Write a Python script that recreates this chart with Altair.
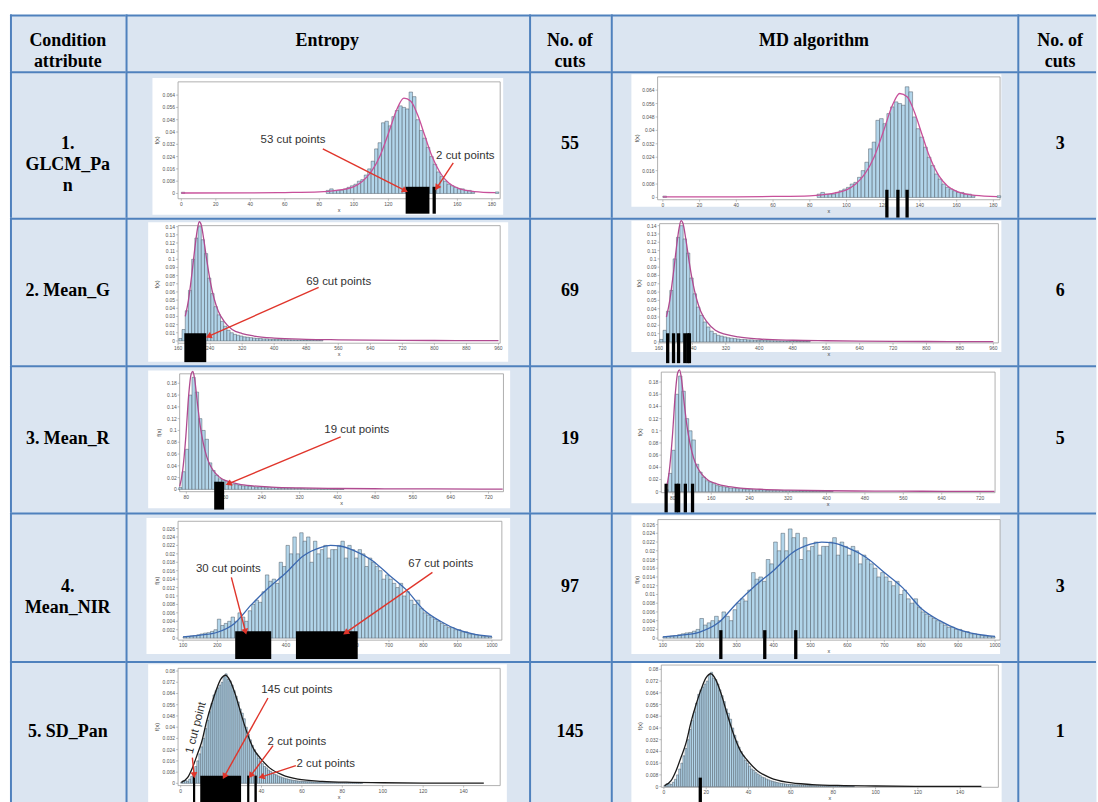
import math
import altair as alt
import pandas as pd

# ---------------- table text ----------------
HEADERS = ["Condition\nattribute", "Entropy", "No. of\ncuts", "MD algorithm", "No. of\ncuts"]
ATTRIBUTES = ["1.\nGLCM_Pa\nn", "2. Mean_G", "3. Mean_R", "4.\nMean_NIR", "5. SD_Pan"]
ENTROPY_CUTS = [55, 69, 19, 97, 145]
MD_CUTS = [3, 6, 5, 3, 1]

# ---------------- histograms (bin start, bin width, density f(x)) ----------------
GLCM_START, GLCM_WIDTH = 84, 2
GLCM_F = [0.002, 0.003, 0.002, 0.002, 0.002, 0.003, 0.004, 0.005, 0.006, 0.008,
          0.009, 0.012, 0.016, 0.021, 0.029, 0.033, 0.046, 0.047, 0.044, 0.05,
          0.054, 0.057, 0.056, 0.055, 0.066, 0.063, 0.048, 0.041, 0.036, 0.03,
          0.024, 0.019, 0.014, 0.011, 0.008, 0.006, 0.005, 0.004, 0.003, 0.003,
          0.002, 0.002, 0.001]
GLCM_EXTRA_X0 = [0, 182]
GLCM_EXTRA_F = [0.0008, 0.001]
GLCM_CURVE_X = [0, 40, 60, 80, 90, 100, 105, 110, 115, 120, 125, 129, 133, 137, 141, 145, 150, 155, 160, 170, 182]
GLCM_CURVE_F = [0.0003, 0.0004, 0.0006, 0.001, 0.002, 0.0045, 0.008, 0.014, 0.024, 0.039, 0.055, 0.062,
                0.06, 0.051, 0.038, 0.025, 0.0135, 0.0068, 0.0036, 0.0012, 0.0005]

MEANG_START, MEANG_WIDTH = 162, 8
MEANG_F = [0.003, 0.014, 0.037, 0.062, 0.1, 0.126, 0.14, 0.124, 0.107, 0.077,
           0.058, 0.042, 0.032, 0.024, 0.018, 0.013, 0.01, 0.008, 0.007, 0.006,
           0.005, 0.0045, 0.004, 0.0035, 0.003, 0.003, 0.0025, 0.0025, 0.002, 0.002,
           0.002, 0.0018, 0.0016, 0.0015, 0.0014, 0.0013, 0.0012, 0.0011, 0.001, 0.001,
           0.0009, 0.0008, 0.0008, 0.0007, 0.0007]
MEANG_CURVE_X = [178, 186, 194, 202, 208, 213, 218, 224, 232, 240, 250, 260, 275, 295, 320, 350,
                 400, 480, 560, 640, 720, 800, 880, 960]
MEANG_CURVE_F = [0.03, 0.05, 0.08, 0.114, 0.136, 0.146, 0.142, 0.125, 0.098, 0.074, 0.052, 0.037,
                 0.024, 0.014, 0.009, 0.006, 0.0035, 0.002, 0.0014, 0.001, 0.0007, 0.0005, 0.0004, 0.0003]

MEANR_START, MEANR_WIDTH = 64, 7
MEANR_F = [0.003, 0.03, 0.068, 0.16, 0.19, 0.165, 0.12, 0.1, 0.085, 0.045,
           0.032, 0.024, 0.018, 0.016, 0.013, 0.01, 0.009, 0.008, 0.007, 0.006,
           0.006, 0.005, 0.005, 0.004, 0.004, 0.004, 0.003, 0.003, 0.003, 0.003,
           0.002, 0.002, 0.002, 0.002, 0.002, 0.0015, 0.0015, 0.0015, 0.001, 0.001,
           0.001, 0.001, 0.001, 0.0008, 0.0008, 0.0008, 0.0006, 0.0006, 0.0005, 0.0005]
MEANR_CURVE_X = [66, 72, 79, 85, 90, 94, 98, 103, 109, 116, 123, 131, 141, 155, 171, 191, 221, 261,
                 321, 400, 500, 600, 720, 750]
MEANR_CURVE_F = [0.005, 0.03, 0.09, 0.16, 0.195, 0.2, 0.185, 0.15, 0.11, 0.078, 0.056, 0.04, 0.028,
                 0.018, 0.013, 0.009, 0.006, 0.004, 0.0025, 0.0015, 0.001, 0.0007, 0.0005, 0.0004]

NIR_START, NIR_WIDTH = 100, 10
NIR_F = [0.0003, 0.0004, 0.0005, 0.0006, 0.0008, 0.001, 0.0012, 0.0013, 0.0016, 0.002,
         0.0045, 0.003, 0.0035, 0.004, 0.005, 0.004, 0.006, 0.005, 0.004, 0.0065,
         0.008, 0.009, 0.0085, 0.011, 0.015, 0.0135, 0.014, 0.013, 0.018, 0.017,
         0.022, 0.02, 0.024, 0.02, 0.025, 0.023, 0.024, 0.018, 0.023, 0.02,
         0.021, 0.022, 0.019, 0.021, 0.021, 0.022, 0.023, 0.019, 0.022, 0.021,
         0.019, 0.021, 0.02, 0.017, 0.019, 0.018, 0.017, 0.016, 0.014, 0.015,
         0.014, 0.013, 0.012, 0.013, 0.01, 0.011, 0.009, 0.008, 0.009, 0.007,
         0.006, 0.0055, 0.005, 0.0045, 0.004, 0.0035, 0.003, 0.0025, 0.0025, 0.002,
         0.002, 0.0015, 0.0015, 0.001, 0.001, 0.0008, 0.0006, 0.0005, 0.0004, 0.0003]
NIR_CURVE_X = [100, 150, 200, 250, 300, 350, 400, 450, 500, 530, 560, 600, 650, 700, 750, 800, 850, 900, 950, 1000]
NIR_CURVE_F = [0.0003, 0.0007, 0.0014, 0.0035, 0.008, 0.012, 0.0155, 0.0195, 0.0215, 0.022, 0.0218,
               0.0207, 0.0185, 0.015, 0.0115, 0.0068, 0.004, 0.002, 0.0009, 0.0004]

SD_START, SD_WIDTH = 0, 1
SD_F = [0.0008, 0.002, 0.002, 0.0015, 0.003, 0.005, 0.008, 0.012, 0.016, 0.021,
        0.026, 0.032, 0.039, 0.045, 0.051, 0.057, 0.063, 0.066, 0.068, 0.07,
        0.072, 0.076, 0.078, 0.074, 0.073, 0.07, 0.066, 0.062, 0.058, 0.053,
        0.05, 0.046, 0.04, 0.035, 0.031, 0.027, 0.024, 0.021, 0.018, 0.016,
        0.014, 0.012, 0.011, 0.0095, 0.0085, 0.0075, 0.0065, 0.006, 0.0052, 0.0046,
        0.004, 0.0036, 0.0032, 0.0028, 0.0025, 0.0022, 0.002, 0.0018, 0.0016, 0.0015,
        0.0014, 0.0013, 0.0012, 0.0012, 0.0011, 0.001, 0.001, 0.0009, 0.0009, 0.0008,
        0.0008, 0.0007, 0.0007, 0.0007, 0.0006, 0.0006, 0.0006, 0.0005, 0.0005, 0.0005,
        0.0005, 0.0004, 0.0004, 0.0004, 0.0004, 0.0003, 0.0003, 0.0003, 0.0003, 0.0003]
SD_CURVE_X = [0.3, 3.4, 5.8, 8.1, 10.5, 12.8, 15.2, 17.5, 19.8, 22.2, 24.5, 26.9, 30, 33.1, 36.3,
              39.4, 44, 50.3, 58, 70, 85, 100, 120, 150]
SD_CURVE_F = [0.0007, 0.004, 0.011, 0.02, 0.03, 0.044, 0.056, 0.066, 0.074, 0.077, 0.073, 0.064,
              0.049, 0.035, 0.024, 0.018, 0.011, 0.006, 0.003, 0.0014, 0.0007, 0.0004, 0.0002, 0.0001]

HISTS = [
    dict(start=GLCM_START, width=GLCM_WIDTH, f=GLCM_F, ex0=GLCM_EXTRA_X0, exf=GLCM_EXTRA_F,
         cx=GLCM_CURVE_X, cf=GLCM_CURVE_F),
    dict(start=MEANG_START, width=MEANG_WIDTH, f=MEANG_F, ex0=[], exf=[], cx=MEANG_CURVE_X, cf=MEANG_CURVE_F),
    dict(start=MEANR_START, width=MEANR_WIDTH, f=MEANR_F, ex0=[], exf=[], cx=MEANR_CURVE_X, cf=MEANR_CURVE_F),
    dict(start=NIR_START, width=NIR_WIDTH, f=NIR_F, ex0=[], exf=[], cx=NIR_CURVE_X, cf=NIR_CURVE_F),
    dict(start=SD_START, width=SD_WIDTH, f=SD_F, ex0=[], exf=[], cx=SD_CURVE_X, cf=SD_CURVE_F),
]

# ---------------- cut points ----------------
ENT_CUT_SPANS = [
    [(130, 143.8), (145.6, 147.5)],
    [(175.7, 230.4)],
    [(139, 160)],
    [(252, 357), (429, 609)],
    [(6.1, 7.2), (9.7, 29.9), (32.9, 34.0), (36.5, 37.7)],
]
MD_CUT_VALUES = [
    [122, 128, 133],
    [181, 195, 207, 222, 229, 233],
    [66, 87, 92, 106, 121],
    [257, 376, 460],
    [17.2],
]
# label, text x, text y, text angle, arrow from (x, y) to (x, y)
ENT_NOTES = [
    [("53 cut points", 64.7, 0.0348, 0, 82, 0.029, 131, 0.0011),
     ("2 cut points", 164.6, 0.0245, 0, 157.6, 0.0199, 147.3, 0.0024)],
    [("69 cut points", 561, 0.0716, 0, 511, 0.0655, 230.5, 0.0045)],
    [("19 cut points", 441, 0.1009, 0, 407, 0.089, 164.4, 0.008)],
    [("30 cut points", 232, 0.0163, 0, 240.8, 0.0144, 283.8, 0.00095),
     ("67 cut points", 851, 0.0175, 0, 826.7, 0.0156, 568, 0.00095)],
    [("1 cut point", 7.7, 0.0395, 284.5, 5.8, 0.0183, 6.8, 0.004),
     ("145 cut points", 57.5, 0.0665, 0, 43.2, 0.0608, 21, 0.0033),
     ("2 cut points", 57.5, 0.0296, 0, 45.7, 0.0268, 33.9, 0.004),
     ("2 cut points", 71.8, 0.014, 0, 57, 0.0126, 38.8, 0.004)],
]

# ---------------- layout / style ----------------
COL_W = [116, 405, 82, 408, 79]
ROW_H = [57, 147, 148, 148, 149, 142]
PAD_L, PAD_T = 8, 11
COL_X0 = [PAD_L + sum(COL_W[:i]) for i in range(5)]
ROW_Y0 = [PAD_T + sum(ROW_H[:i]) for i in range(6)]

BORDER = "#4f81bd"
CELL_FILL = "#dbe5f1"
BAR_FILL = "#b2d5ea"
BAR_EDGE = "#3f4a55"
RED = "#e0352b"
SERIF = "Liberation Serif"
SANS = "Liberation Sans"
TICK_GREY = "#555555"
CURVE_COLORS = ["#c8509a", "#b04a90", "#b04a90", "#3b68b0", "#1a1a1a"]

# inset geometry in page pixels
PANELS_E = [
    dict(white=(151, 74.7, 503, 212), frame=(176.7, 78.7, 500, 196), xd=(0, 180), xp=(180, 491.7),
         ymax=0.064, yp=(190.7, 92), xstep=20, ystep=0.008, cut_y=(184, 211)),
    dict(white=(146.7, 219.7, 508, 359.7), frame=(176.7, 223, 500, 341), xd=(160, 960), xp=(176.7, 498.3),
         ymax=0.14, yp=(338.7, 224), xstep=80, ystep=0.01, cut_y=(331, 360)),
    dict(white=(146.7, 368.3, 510, 506.7), frame=(178.3, 371.7, 503.3, 490), xd=(80, 720), xp=(185, 488.3),
         ymax=0.18, yp=(487.7, 381.2), xstep=80, ystep=0.02, cut_y=(480, 508)),
    dict(white=(145, 516.3, 510, 653), frame=(176.7, 519.7, 501.7, 639), xd=(100, 1000), xp=(181.7, 491.7),
         ymax=0.026, yp=(637, 527), xstep=100, ystep=0.002, cut_y=(630, 658)),
    dict(white=(146.7, 663.3, 506.7, 802), frame=(176.7, 667.3, 500, 785), xd=(0, 140), xp=(179.3, 463.3),
         ymax=0.08, yp=(782.7, 670), xstep=20, ystep=0.008, cut_y=(775, 802)),
]
PANELS_M = [
    dict(white=(631.7, 71, 1003, 204), frame=(658, 73.7, 1001.7, 197), xd=(0, 180), xp=(663.3, 995),
         ymax=0.064, yp=(194.7, 87), xstep=20, ystep=0.008, cut_y=(187, 215)),
    dict(white=(631.7, 218, 1003, 349.7), frame=(660, 221, 1000, 340.7), xd=(160, 960), xp=(659.3, 995),
         ymax=0.14, yp=(339.7, 223), xstep=80, ystep=0.01, cut_y=(331, 361)),
    dict(white=(631.7, 366, 1001.7, 501.7), frame=(661.7, 370, 996.7, 491), xd=(80, 720), xp=(673.3, 981.7),
         ymax=0.18, yp=(490, 380), xstep=80, ystep=0.02, cut_y=(482, 512)),
    dict(white=(631.7, 514, 1001.7, 653), frame=(658.3, 518, 1001.7, 639), xd=(100, 1000), xp=(663.3, 996.7),
         ymax=0.026, yp=(637, 523), xstep=100, ystep=0.002, cut_y=(629, 658)),
    dict(white=(631.7, 662, 1003.3, 802), frame=(661.7, 664, 1000, 786.7), xd=(0, 140), xp=(664.3, 961.7),
         ymax=0.08, yp=(786, 668.3), xstep=20, ystep=0.008, cut_y=(777, 802)),
]

ONE = pd.DataFrame({"k": [0]})


def borders(W, H):
    top = alt.Chart(ONE).mark_rule(color=BORDER, strokeWidth=2).encode(
        x=alt.value(0), x2=alt.value(W), y=alt.value(1))
    left = alt.Chart(ONE).mark_rule(color=BORDER, strokeWidth=2).encode(
        x=alt.value(1), y=alt.value(0), y2=alt.value(H))
    return [top, left]


def text_cell(text, W, H, cx=None, dy=0):
    df = pd.DataFrame({"t": [text]})
    txt = alt.Chart(df).mark_text(font=SERIF, fontSize=18, fontWeight="bold", lineBreak="\n",
                                  lineHeight=21, align="center", baseline="middle", color="black").encode(
        text="t:N", x=alt.value(W / 2 if cx is None else cx), y=alt.value(H / 2 + dy))
    return alt.layer(txt, *borders(W, H)).properties(width=W, height=H)


def lin(d0, d1, p0, p1):
    return lambda d: p0 + (d - d0) * (p1 - p0) / (d1 - d0)


def fmt(v):
    s = ("%.3f" % v).rstrip("0").rstrip(".")
    return s if s else "0"


def hist_cell(r, col, P, hist, color, kind, cuts, notes):
    ox, oy = COL_X0[col], ROW_Y0[r + 1]
    W, H = COL_W[col], ROW_H[r + 1]
    xd0, xd1 = P["xd"]
    xp0, xp1 = P["xp"][0] - ox, P["xp"][1] - ox
    yp0, yp1 = P["yp"][0] - oy, P["yp"][1] - oy
    ymax = P["ymax"]
    fx, fy = lin(xd0, xd1, xp0, xp1), lin(0, ymax, yp0, yp1)
    ix, iy = lin(xp0, xp1, xd0, xd1), lin(yp0, yp1, 0, ymax)
    xs = alt.Scale(domain=[xd0, xd1], range=[xp0, xp1], nice=False, zero=False)
    ys = alt.Scale(domain=[0, ymax], range=[yp0, yp1], nice=False, zero=False)
    fl, ft, fr, fb = (P["frame"][0] - ox, P["frame"][1] - oy, P["frame"][2] - ox, P["frame"][3] - oy)
    wl, wt, wr, wb = (P["white"][0] - ox, P["white"][1] - oy, P["white"][2] - ox, min(P["white"][3] - oy, H))

    nx = int(round((xd1 - xd0) / P["xstep"])) + 1
    ny = int(round(ymax / P["ystep"])) + 1
    xticks = [xd0 + i * P["xstep"] for i in range(nx)]
    yticks = [round(i * P["ystep"], 4) for i in range(ny)]

    white = alt.Chart(ONE).mark_rect(fill="white").encode(
        x=alt.value(wl), x2=alt.value(wr), y=alt.value(wt), y2=alt.value(wb))
    frame = alt.Chart(ONE).mark_rect(fillOpacity=0, stroke="#9c9c9c", strokeWidth=0.8).encode(
        x=alt.value(fl), x2=alt.value(fr), y=alt.value(ft), y2=alt.value(fb))

    # tick labels and tick marks (placed through the panel scales)
    xtdf = pd.DataFrame({"v": xticks, "lab": [fmt(v) for v in xticks]})
    ytdf = pd.DataFrame({"v": yticks, "lab": [fmt(v) for v in yticks]})
    xlab = alt.Chart(xtdf).mark_text(font=SANS, fontSize=5, color=TICK_GREY, baseline="top").encode(
        x=alt.X("v:Q", scale=xs, axis=None), y=alt.value(fb + 3), text="lab:N")
    xtk = alt.Chart(xtdf).mark_rule(color="#999999", strokeWidth=0.6).encode(
        x=alt.X("v:Q", scale=xs, axis=None), y=alt.value(fb), y2=alt.value(fb + 2))
    ylab = alt.Chart(ytdf).mark_text(font=SANS, fontSize=5, color=TICK_GREY, align="right",
                                     baseline="middle").encode(
        y=alt.Y("v:Q", scale=ys, axis=None), x=alt.value(fl - 3), text="lab:N")
    ytk = alt.Chart(ytdf).mark_rule(color="#999999", strokeWidth=0.6).encode(
        y=alt.Y("v:Q", scale=ys, axis=None), x=alt.value(fl - 2), x2=alt.value(fl))
    ttl = pd.DataFrame({"t": ["x", "f(x)"], "px": [(fl + fr) / 2, fl - 21],
                        "py": [fb + 11, (ft + fb) / 2], "a": [0, 270]})
    titles = alt.Chart(ttl).mark_text(font=SANS, fontSize=5.5, color="#444444", baseline="middle").encode(
        x=alt.X("px:Q", scale=None), y=alt.Y("py:Q", scale=None), text="t:N",
        angle=alt.Angle("a:Q", scale=None))

    x0s = [hist["start"] + i * hist["width"] for i in range(len(hist["f"]))] + list(hist["ex0"])
    fs = list(hist["f"]) + list(hist["exf"])
    bdf = pd.DataFrame({"x0": x0s, "x1": [v + hist["width"] for v in x0s], "f": fs})
    bars = alt.Chart(bdf).mark_rect(fill=BAR_FILL, stroke=BAR_EDGE, strokeWidth=0.45).encode(
        x=alt.X("x0:Q", scale=xs, axis=None), x2="x1:Q",
        y=alt.Y("f:Q", scale=ys, axis=None), y2=alt.datum(0))
    cdf = pd.DataFrame({"x": hist["cx"], "f": hist["cf"]})
    curve = alt.Chart(cdf).mark_line(color=color, strokeWidth=1.3, interpolate="monotone").encode(
        x=alt.X("x:Q", scale=xs, axis=None), y=alt.Y("f:Q", scale=ys, axis=None))

    layers = [white, frame, xtk, ytk, xlab, ylab, titles, bars, curve]
    cy0, cy1 = P["cut_y"][0] - oy, min(P["cut_y"][1] - oy, H)
    if kind == "E":
        kdf = pd.DataFrame({"c0": [a for a, b in cuts], "c1": [b for a, b in cuts]})
        layers.append(alt.Chart(kdf).mark_rect(color="black").encode(
            x=alt.X("c0:Q", scale=xs, axis=None), x2="c1:Q", y=alt.value(cy0), y2=alt.value(cy1)))
    else:
        kdf = pd.DataFrame({"c": cuts})
        layers.append(alt.Chart(kdf).mark_rule(color="black", strokeWidth=3.3).encode(
            x=alt.X("c:Q", scale=xs, axis=None), y=alt.value(cy0), y2=alt.value(cy1)))

    if notes:
        rows = []
        for (lab, tx, ty, tang, ax, ay, bx, by) in notes:
            X1, Y1, X2, Y2 = fx(ax), fy(ay), fx(bx), fy(by)
            dx, dy = X2 - X1, Y2 - Y1
            L = math.hypot(dx, dy)
            hxp, hyp = X2 - 3.5 * dx / L, Y2 - 3.5 * dy / L
            rows.append(dict(label=lab, tx=tx, ty=ty, tang=tang, ax=ax, ay=ay,
                             bx=ix(hxp), by=iy(hyp), hang=math.degrees(math.atan2(dx, -dy)) % 360))
        ndf = pd.DataFrame(rows)
        arrows = alt.Chart(ndf).mark_rule(color=RED, strokeWidth=1.4).encode(
            x=alt.X("ax:Q", scale=xs, axis=None), y=alt.Y("ay:Q", scale=ys, axis=None),
            x2="bx:Q", y2="by:Q")
        heads = alt.Chart(ndf).mark_point(shape="triangle", filled=True, color=RED, size=48, opacity=1).encode(
            x=alt.X("bx:Q", scale=xs, axis=None), y=alt.Y("by:Q", scale=ys, axis=None),
            angle=alt.Angle("hang:Q", scale=None))
        texts = alt.Chart(ndf).mark_text(font=SANS, fontSize=11.5, color="#333333",
                                         align="center", baseline="middle").encode(
            x=alt.X("tx:Q", scale=xs, axis=None), y=alt.Y("ty:Q", scale=ys, axis=None),
            text="label:N", angle=alt.Angle("tang:Q", scale=None))
        layers += [arrows, heads, texts]

    layers += borders(W, H)
    return alt.layer(*layers).properties(width=W, height=H)


cells = []
# header row
for c, h in enumerate(HEADERS):
    cx = 43 if c == 4 else None
    cells.append(text_cell(h, COL_W[c], ROW_H[0], cx=cx, dy=-2))

for r in range(5):
    H = ROW_H[r + 1]
    cells.append(text_cell(ATTRIBUTES[r], COL_W[0], H))
    cells.append(hist_cell(r, 1, PANELS_E[r], HISTS[r], CURVE_COLORS[r], "E", ENT_CUT_SPANS[r], ENT_NOTES[r]))
    cells.append(text_cell(str(ENTROPY_CUTS[r]), COL_W[2], H))
    cells.append(hist_cell(r, 3, PANELS_M[r], HISTS[r], CURVE_COLORS[r], "M", MD_CUT_VALUES[r], []))
    cells.append(text_cell(str(MD_CUTS[r]), COL_W[4], H, cx=43))

chart = alt.concat(*cells, columns=5, spacing=0, bounds="flush", align="each").properties(
    padding={"left": PAD_L, "top": PAD_T, "right": 0, "bottom": 0}
).configure_view(fill=CELL_FILL, stroke="transparent")

chart.save("out.html", embed_options={"renderer": "svg", "actions": False})
